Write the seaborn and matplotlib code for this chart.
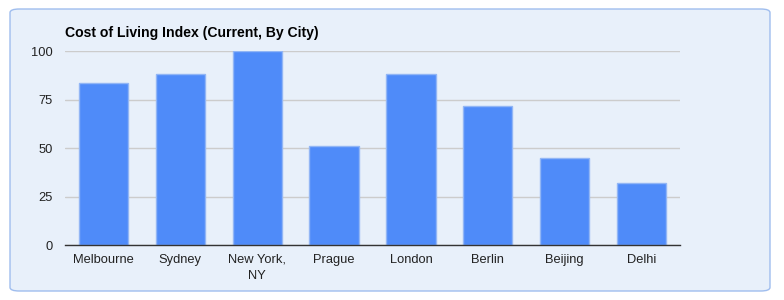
import matplotlib
matplotlib.use("Agg")
import matplotlib.pyplot as plt
import seaborn as sns
import pandas as pd
from matplotlib.patches import FancyBboxPatch

cities = ["Melbourne", "Sydney", "New York,\nNY", "Prague", "London", "Berlin", "Beijing", "Delhi"]
values = [83.5, 88.1, 100.0, 51.2, 88.1, 71.6, 44.8, 32.0]
yticks = [0, 25, 50, 75, 100]

sns.set_theme(style="white")
plt.rcParams["font.family"] = ["Liberation Sans", "DejaVu Sans"]

df = pd.DataFrame({"city": cities, "value": values})

fig = plt.figure(figsize=(7.84, 3.0), dpi=100)
fig.patch.set_facecolor("white")

W, H = 784, 300
panel = FancyBboxPatch((10 / W, 9 / H), 760 / W, 282 / H,
                       boxstyle="round,pad=0,rounding_size=0.012",
                       transform=fig.transFigure, facecolor="#e8f0fa",
                       edgecolor="#9fbdee", linewidth=1.0, zorder=-5)
fig.patches.append(panel)

ax = fig.add_axes([65 / W, (300 - 245.3) / H, 615 / W, (245.3 - 51.3) / H])
ax.set_zorder(2)
ax.set_facecolor("none")

sns.barplot(data=df, x="city", y="value", ax=ax, color="#4f8bf9",
            width=0.64, edgecolor="#92b6f5", linewidth=1.0, saturation=1, zorder=3)

ax.set_xlim(-0.5, len(cities) - 0.5)
ax.set_ylim(0, 100)
ax.set_yticks(yticks)
ax.set_yticklabels([str(v) for v in yticks])
ax.yaxis.grid(True, color="#cccccc", linewidth=1.0, zorder=0)
ax.set_axisbelow(True)
for s in ["top", "right", "left"]:
    ax.spines[s].set_visible(False)
ax.spines["bottom"].set_color("#333333")
ax.spines["bottom"].set_linewidth(1.0)
ax.spines["bottom"].set_zorder(5)
ax.tick_params(axis="both", length=0, labelsize=9.3, colors="#222222")
ax.tick_params(axis="y", pad=9)
ax.tick_params(axis="x", pad=6)
for lbl in ax.get_xticklabels():
    lbl.set_linespacing(1.45)
ax.set_xlabel("")
ax.set_ylabel("")

fig.text(65 / W, 1 - 33 / H, "Cost of Living Index (Current, By City)",
         fontsize=10.1, fontweight="bold", color="#000000", va="center", ha="left")

fig.savefig("out.png", dpi=100, facecolor="white")
